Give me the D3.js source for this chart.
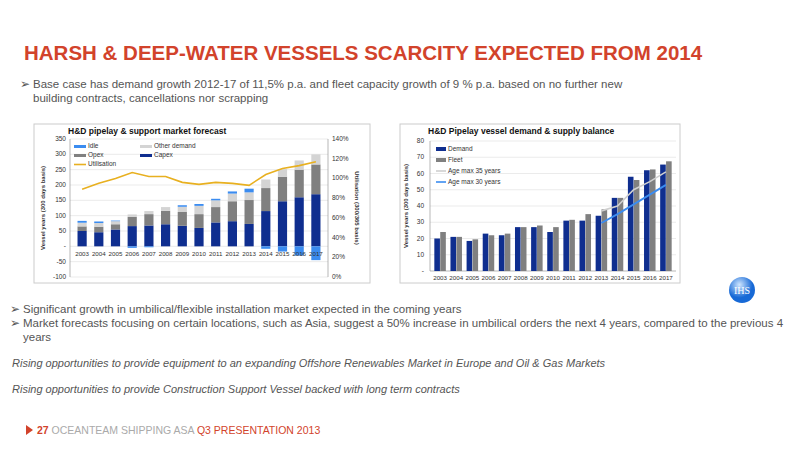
<!DOCTYPE html>
<html><head><meta charset="utf-8">
<script src="https://cdn.jsdelivr.net/npm/d3@7"></script>
<style>body{margin:0;background:#fff}svg{font-family:"Liberation Sans",Arial,sans-serif}</style>
</head><body><svg id="s" width="800" height="450"></svg>
<script>
const years=["2003","2004","2005","2006","2007","2008","2009","2010","2011","2012","2013","2014","2015","2016","2017"];
const capex=[50,46,55,66,68,72,67,60,78,82,73,115,147,160,170];
const opex=[15,18,17,30,37,44,45,45,50,65,78,75,80,90,97];
const otherDemand=[12,12,10,8,10,12,17,27,22,25,25,28,25,30,33];
const idle=[6,5,2,0,0,0,5,6,5,7,12,0,0,0,0];
const idleNeg=[0,0,0,-5,-3,0,0,0,0,0,0,-8,-17,-30,-45];
const utilisation=[89,95,100,106,102,102,96,94,96,95,93,104,110,113,117];
const demand=[20,21,18.5,23,22,27,27,24,31,31,34,45,58,62,65.5];
const fleet=[24,21,19.5,22,23,27,28,27,31.5,35,38,45,56,62.5,67.5];
const age35=[null,null,null,null,null,null,null,null,null,null,37,40,50,55,61];
const age30=[null,null,null,null,null,null,null,null,null,null,29.5,35,41,47,53];
const leftTicks=[350,300,250,200,150,100,50,0,-50,-100];
const rightTicks=[0,20,40,60,80,100,120,140];
const r2Ticks=[0,10,20,30,40,50,60,70,80];

const svg=d3.select("#s");
const red="#d2432b";
svg.append("text").attr("x",24).attr("y",60).attr("fill",red).attr("font-size",20.5).attr("font-weight","bold").text("HARSH & DEEP-WATER VESSELS SCARCITY EXPECTED FROM 2014");
const gray="#555";
function bullet(x,y,lines){svg.append("text").attr("x",x).attr("y",y).attr("font-size",11.5).attr("fill",gray).text("➢");
 lines.forEach((l,i)=>svg.append("text").attr("x",x+13).attr("y",y+i*14).attr("font-size",11.5).attr("fill",gray).text(l));}
bullet(20,88,["Base case has demand growth 2012-17 of 11,5% p.a. and fleet capacity growth of 9 % p.a. based on no further new","building contracts, cancellations nor scrapping"]);
bullet(10,313,["Significant growth in umbilical/flexible installation market expected in the coming years"]);
bullet(10,327,["Market forecasts focusing on certain locations, such as Asia, suggest a 50% increase in umbilical orders the next 4 years, compared to the previous 4","years"]);
svg.append("text").attr("x",12).attr("y",367).attr("font-size",11).attr("font-style","italic").attr("fill",gray).text("Rising opportunities to provide equipment to an expanding Offshore Renewables Market in Europe and Oil & Gas Markets");
svg.append("text").attr("x",12).attr("y",393).attr("font-size",11).attr("font-style","italic").attr("fill",gray).text("Rising opportunities to provide Construction Support Vessel backed with long term contracts");
svg.append("path").attr("d","M26,425 L33,430 L26,435Z").attr("fill",red);
const ft=svg.append("text").attr("x",37).attr("y",434).attr("font-size",10.5);
ft.append("tspan").attr("fill",red).attr("font-weight","bold").text("27 ");
ft.append("tspan").attr("fill","#aaa").text(" OCEANTEAM SHIPPING ASA  ");
ft.append("tspan").attr("fill",red).text(" Q3 PRESENTATION 2013");
// logo
const lg=svg.append("g");
const grd=svg.append("defs").append("radialGradient").attr("id","lgr").attr("cx","40%").attr("cy","30%");
grd.append("stop").attr("offset","0%").attr("stop-color","#cfe6ff");grd.append("stop").attr("offset","100%").attr("stop-color","#1769d6");
lg.append("circle").attr("cx",742).attr("cy",290).attr("r",13).attr("fill","url(#lgr)");
lg.append("text").attr("x",742).attr("y",294).attr("text-anchor","middle").attr("font-size",10).attr("fill","#fff").attr("font-family","Liberation Serif").text("IHS");

// left chart
svg.append("rect").attr("x",34).attr("y",124).attr("width",336).attr("height",159).attr("fill","#fff").attr("stroke","#ccc");
const L={l:70,r:328,t:139,b:277};
const x1=d3.scaleBand().domain(years).range([L.l,L.r]).padding(0.45);
const y1=d3.scaleLinear().domain([-100,350]).range([L.b,L.t]);
const yu=d3.scaleLinear().domain([0,140]).range([L.b,L.t]);
const g1=svg.append("g").attr("font-size",6.5).attr("fill","#333");
leftTicks.forEach(t=>{g1.append("line").attr("x1",L.l).attr("x2",L.r).attr("y1",y1(t)).attr("y2",y1(t)).attr("stroke","#ddd").attr("stroke-width",0.6);
 g1.append("text").attr("x",L.l-4).attr("y",y1(t)+2).attr("text-anchor","end").text(t===0?"-":t);});
rightTicks.forEach(t=>g1.append("text").attr("x",L.r+4).attr("y",yu(t)+2).text(t+"%"));
g1.append("line").attr("x1",L.l).attr("x2",L.l).attr("y1",L.t).attr("y2",L.b).attr("stroke","#888").attr("stroke-width",0.6);
g1.append("line").attr("x1",L.r).attr("x2",L.r).attr("y1",L.t).attr("y2",L.b).attr("stroke","#888").attr("stroke-width",0.6);
const stacks=[[capex,"#0f2e8f"],[opex,"#808080"],[otherDemand,"#d4d4d4"],[idle,"#3b8cf0"]];
years.forEach((yr,i)=>{let base=0;stacks.forEach(([arr,c])=>{const v=arr[i];if(v>0){g1.append("rect").attr("x",x1(yr)).attr("width",x1.bandwidth()).attr("y",y1(base+v)).attr("height",y1(base)-y1(base+v)).attr("fill",c);}base+=v;});
 if(idleNeg[i]<0)g1.append("rect").attr("x",x1(yr)).attr("width",x1.bandwidth()).attr("y",y1(0)).attr("height",y1(idleNeg[i])-y1(0)).attr("fill","#3b8cf0");});
years.forEach(yr=>g1.append("text").attr("x",x1(yr)+x1.bandwidth()/2).attr("y",y1(0)+10).attr("text-anchor","middle").attr("font-size",6.2).text(yr));
g1.append("path").datum(utilisation).attr("fill","none").attr("stroke","#e8b020").attr("stroke-width",1.6)
 .attr("d",d3.line().x((d,i)=>x1(years[i])+x1.bandwidth()/2).y(d=>yu(d)));
g1.append("text").attr("x",68).attr("y",134).attr("font-size",8.5).attr("font-weight","bold").attr("fill","#111").text("H&D pipelay & support market forecast");
g1.append("text").attr("transform",`translate(45,208) rotate(-90)`).attr("text-anchor","middle").attr("font-size",6).attr("font-weight","bold").text("Vessel years (300 days basis)");
g1.append("text").attr("transform",`translate(355,208) rotate(90)`).attr("text-anchor","middle").attr("font-size",6).attr("font-weight","bold").text("Utilisation (300/365 basis)");
[["Idle","#3b8cf0",74,148,"b"],["Other demand","#d4d4d4",140,148,"b"],["Opex","#808080",74,157,"b"],["Capex","#0f2e8f",140,157,"b"],["Utilisation","#e8b020",74,166,"l"]].forEach(([n,c,x,y,t])=>{
 if(t==="b")g1.append("rect").attr("x",x).attr("y",y-3).attr("width",12).attr("height",3).attr("fill",c);else g1.append("line").attr("x1",x).attr("x2",x+12).attr("y1",y-1.5).attr("y2",y-1.5).attr("stroke",c).attr("stroke-width",1.6);
 g1.append("text").attr("x",x+14).attr("y",y).text(n);});

// right chart
svg.append("rect").attr("x",400).attr("y",124).attr("width",280).attr("height",159).attr("fill","#fff").attr("stroke","#ccc");
const R={l:430,r:676,t:141,b:271};
const x2=d3.scaleBand().domain(years).range([R.l,R.r]).padding(0.25);
const xs=d3.scaleBand().domain(["d","f"]).range([0,x2.bandwidth()]).padding(0.05);
const y2=d3.scaleLinear().domain([0,80]).range([R.b,R.t]);
const g2=svg.append("g").attr("font-size",6.5).attr("fill","#333");
r2Ticks.forEach(t=>{g2.append("line").attr("x1",R.l).attr("x2",R.r).attr("y1",y2(t)).attr("y2",y2(t)).attr("stroke",t===0?"#888":"#ddd").attr("stroke-width",0.6);
 g2.append("text").attr("x",R.l-6).attr("y",y2(t)+2).attr("text-anchor","end").text(t===0?"-":t);});
g2.append("line").attr("x1",R.l).attr("x2",R.l).attr("y1",R.t).attr("y2",R.b).attr("stroke","#888").attr("stroke-width",0.6);
years.forEach((yr,i)=>{
 g2.append("rect").attr("x",x2(yr)+xs("d")).attr("width",xs.bandwidth()).attr("y",y2(demand[i])).attr("height",y2(0)-y2(demand[i])).attr("fill","#0f2e8f");
 g2.append("rect").attr("x",x2(yr)+xs("f")).attr("width",xs.bandwidth()).attr("y",y2(fleet[i])).attr("height",y2(0)-y2(fleet[i])).attr("fill","#808080");
 g2.append("text").attr("x",x2(yr)+x2.bandwidth()/2).attr("y",R.b+9).attr("text-anchor","middle").attr("font-size",6.2).text(yr);});
const ln=d3.line().defined(d=>d!=null).x((d,i)=>x2(years[i])+x2.bandwidth()/2).y(d=>y2(d));
g2.append("path").datum(age35).attr("fill","none").attr("stroke","#cfcfcf").attr("stroke-width",1.6).attr("d",ln);
g2.append("path").datum(age30).attr("fill","none").attr("stroke","#3b8cf0").attr("stroke-width",1.8).attr("d",ln);
g2.append("text").attr("x",428).attr("y",134).attr("font-size",8.5).attr("font-weight","bold").attr("fill","#111").text("H&D Pipelay vessel demand & supply balance");
g2.append("text").attr("transform",`translate(408,206) rotate(-90)`).attr("text-anchor","middle").attr("font-size",6).attr("font-weight","bold").text("Vessel years (300 days basis)");
[["Demand","#0f2e8f",436,151,"b"],["Fleet","#808080",436,162,"b"],["Age max 35 years","#cfcfcf",436,173,"l"],["Age max 30 years","#3b8cf0",436,184,"l"]].forEach(([n,c,x,y,t])=>{
 if(t==="b")g2.append("rect").attr("x",x).attr("y",y-4).attr("width",10).attr("height",4).attr("fill",c);else g2.append("line").attr("x1",x).attr("x2",x+10).attr("y1",y-2).attr("y2",y-2).attr("stroke",c).attr("stroke-width",1.6);
 g2.append("text").attr("x",x+12).attr("y",y).text(n);});
</script></body></html>
